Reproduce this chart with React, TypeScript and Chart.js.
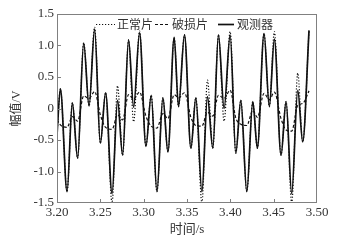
import React, { useEffect, useRef } from 'react';
import { Chart, registerables } from 'chart.js';

Chart.register(...registerables);

// time (s)
const times = [
  3.2000, 3.2039, 3.2116, 3.2177, 3.2238, 3.2308, 3.2370, 3.2434, 3.2500, 3.2561,
  3.2635, 3.2699, 3.2757, 3.2826, 3.2884, 3.2953, 3.3026, 3.3087, 3.3153, 3.3222,
  3.3280, 3.3352, 3.3402, 3.3471, 3.3545, 3.3602, 3.3672, 3.3736, 3.3798, 3.3863,
  3.3928, 3.3998, 3.4063, 3.4121, 3.4190, 3.4259, 3.4312, 3.4389, 3.4450, 3.4508,
  3.4585, 3.4643, 3.4708, 3.4778, 3.4835, 3.4908,
];

// 观测器 (solid)
const observer = [
  -0.42, 0.31, -1.32, 0.09, -0.79, 1.04, 0.04, 1.26, -0.55, 0.25,
  -1.35, 0.13, -0.74, 1.09, 0.02, 1.20, -0.60, 0.21, -1.32, 0.17,
  -0.69, 1.13, 0.03, 1.17, -0.63, 0.17, -1.32, 0.19, -0.63, 1.17,
  0.00, 1.17, -0.71, 0.13, -1.32, 0.11, -0.63, 1.19, 0.03, 1.10,
  -0.74, 0.11, -1.35, 0.29, -0.53, 1.24,
];

// 正常片 (dotted)
const normal = [
  -0.42, 0.31, -1.32, 0.09, -0.79, 1.04, 0.04, 1.29, -0.55, 0.25,
  -1.50, 0.36, -0.74, 1.09, -0.21, 1.23, -0.60, 0.21, -1.32, 0.17,
  -0.69, 1.13, 0.03, 1.17, -0.63, 0.17, -1.50, 0.45, -0.63, 1.17,
  -0.20, 1.22, -0.71, 0.13, -1.32, 0.11, -0.63, 1.19, 0.03, 1.22,
  -0.74, 0.11, -1.50, 0.56, -0.53, 1.24,
];

// 破损片 (dashed)
const damaged = [
  -0.18, -0.26, -0.30, -0.13, -0.20, 0.20, 0.16, 0.27, -0.10, -0.30,
  -0.33, -0.10, -0.18, 0.22, 0.15, 0.26, -0.12, -0.28, -0.31, -0.08,
  -0.16, 0.22, 0.17, 0.25, -0.14, -0.27, -0.28, -0.06, -0.12, 0.21,
  0.16, 0.29, -0.15, -0.25, -0.27, -0.03, -0.14, 0.24, 0.14, 0.26,
  -0.16, -0.34, -0.36, 0.05, 0.08, 0.28,
];

const xTicks = [3.2, 3.25, 3.3, 3.35, 3.4, 3.45, 3.5];
const yTicks = [-1.5, -1.0, -0.5, 0, 0.5, 1.0, 1.5];
const seriesNames = ['正常片', '破损片', '观测器'];
const xTitle = '时间/s';
const yTitle = '幅值/V';

const FONT = '"Liberation Serif", "Noto Sans CJK SC", serif';
const CJK = '"Noto Sans CJK SC", "Liberation Serif", sans-serif';
const TEXT = '#333333';

const framePlugin = {
  id: 'frameAndLegend',
  afterDatasetsDraw(chart: any) {
    const { ctx, chartArea } = chart;
    const { left, right, top, bottom } = chartArea;
    const xs = chart.scales.x;
    const ys = chart.scales.y;
    ctx.save();
    ctx.strokeStyle = '#808080';
    ctx.lineWidth = 1;
    ctx.setLineDash([]);
    ctx.strokeRect(Math.round(left) + 0.5, Math.round(top) + 0.5, Math.round(right - left) - 1, Math.round(bottom - top) - 1);
    ctx.beginPath();
    xTicks.slice(1, -1).forEach((v) => {
      const px = Math.round(xs.getPixelForValue(v)) + 0.5;
      ctx.moveTo(px, bottom);
      ctx.lineTo(px, bottom - 4);
    });
    yTicks.slice(1, -1).forEach((v) => {
      const py = Math.round(ys.getPixelForValue(v)) + 0.5;
      ctx.moveTo(left, py);
      ctx.lineTo(left + 4, py);
    });
    ctx.stroke();

    // legend inside plot
    const ly = Math.round(top + 10) + 0.5;
    const layout = [
      { ds: 0, x0: 39, x1: 58, tx: 60 },
      { ds: 1, x0: 98, x1: 113, tx: 115 },
      { ds: 2, x0: 161, x1: 177, tx: 180 },
    ];
    layout.forEach((it, i) => {
      const d: any = chart.data.datasets[it.ds];
      ctx.beginPath();
      ctx.strokeStyle = '#111';
      ctx.lineWidth = d.borderWidth;
      ctx.setLineDash(d.borderDash || []);
      ctx.moveTo(left + it.x0, ly);
      ctx.lineTo(left + it.x1, ly);
      ctx.stroke();
      ctx.setLineDash([]);
      ctx.fillStyle = TEXT;
      ctx.font = `12px ${CJK}`;
      ctx.textBaseline = 'middle';
      ctx.textAlign = 'left';
      ctx.fillText(seriesNames[i], left + it.tx, ly);
    });
    ctx.restore();
  },
};

export default function App() {
  const ref = useRef<HTMLCanvasElement | null>(null);
  useEffect(() => {
    if (!ref.current) return;
    const pts = (arr: number[]) => times.map((t, i) => ({ x: t, y: arr[i] }));
    const chart = new Chart(ref.current, {
      type: 'line',
      data: {
        datasets: [
          {
            label: seriesNames[0],
            data: pts(normal),
            borderColor: '#111',
            borderWidth: 1.2,
            borderDash: [1.2, 1.8],
            pointRadius: 0,
            cubicInterpolationMode: 'monotone',
            fill: false,
            order: 1,
          },
          {
            label: seriesNames[1],
            data: pts(damaged),
            borderColor: '#111',
            borderWidth: 1.2,
            borderDash: [3, 2],
            pointRadius: 0,
            cubicInterpolationMode: 'monotone',
            fill: false,
            order: 2,
          },
          {
            label: seriesNames[2],
            data: pts(observer),
            borderColor: '#111',
            borderWidth: 1.7,
            pointRadius: 0,
            cubicInterpolationMode: 'monotone',
            fill: false,
            order: 0,
          },
        ],
      },
      options: {
        responsive: false,
        animation: false,
        events: [],
        layout: { padding: { left: 0, right: 38, top: 14, bottom: 0 } },
        plugins: {
          legend: { display: false },
          tooltip: { enabled: false },
        },
        scales: {
          x: {
            type: 'linear',
            min: 3.2,
            max: 3.5,
            afterBuildTicks: (s: any) => {
              s.ticks = xTicks.map((v) => ({ value: v }));
            },
            afterFit: (s: any) => {
              s.height = 41;
            },
            grid: { display: false, drawTicks: false },
            border: { display: false },
            ticks: {
              padding: 2,
              color: TEXT,
              font: { family: FONT, size: 13 },
              maxRotation: 0,
              autoSkip: false,
              callback: (v: any) => Number(v).toFixed(2),
            },
            title: {
              display: true,
              text: xTitle,
              color: TEXT,
              font: { family: FONT, size: 13 },
              padding: { top: 0, bottom: 7 },
            },
          },
          y: {
            type: 'linear',
            min: -1.5,
            max: 1.5,
            afterBuildTicks: (s: any) => {
              s.ticks = yTicks.map((v) => ({ value: v }));
            },
            afterFit: (s: any) => {
              s.width = 57;
            },
            grid: { display: false, drawTicks: false },
            border: { display: false },
            ticks: {
              padding: 3,
              color: TEXT,
              font: { family: FONT, size: 13 },
              autoSkip: false,
              callback: (v: any) => (Number(v) === 0 ? '0' : Number(v).toFixed(1)),
            },
            title: {
              display: true,
              text: yTitle,
              color: TEXT,
              font: { family: FONT, size: 12 },
              padding: { top: 10, bottom: 0 },
            },
          },
        },
      },
      plugins: [framePlugin],
    });
    return () => chart.destroy();
  }, []);
  return (
    <div style={{ position: 'absolute', left: 0, top: 0, width: 355, height: 244, background: '#fff' }}>
      <canvas ref={ref} width={355} height={244} style={{ display: 'block', width: 355, height: 244 }} />
    </div>
  );
}
